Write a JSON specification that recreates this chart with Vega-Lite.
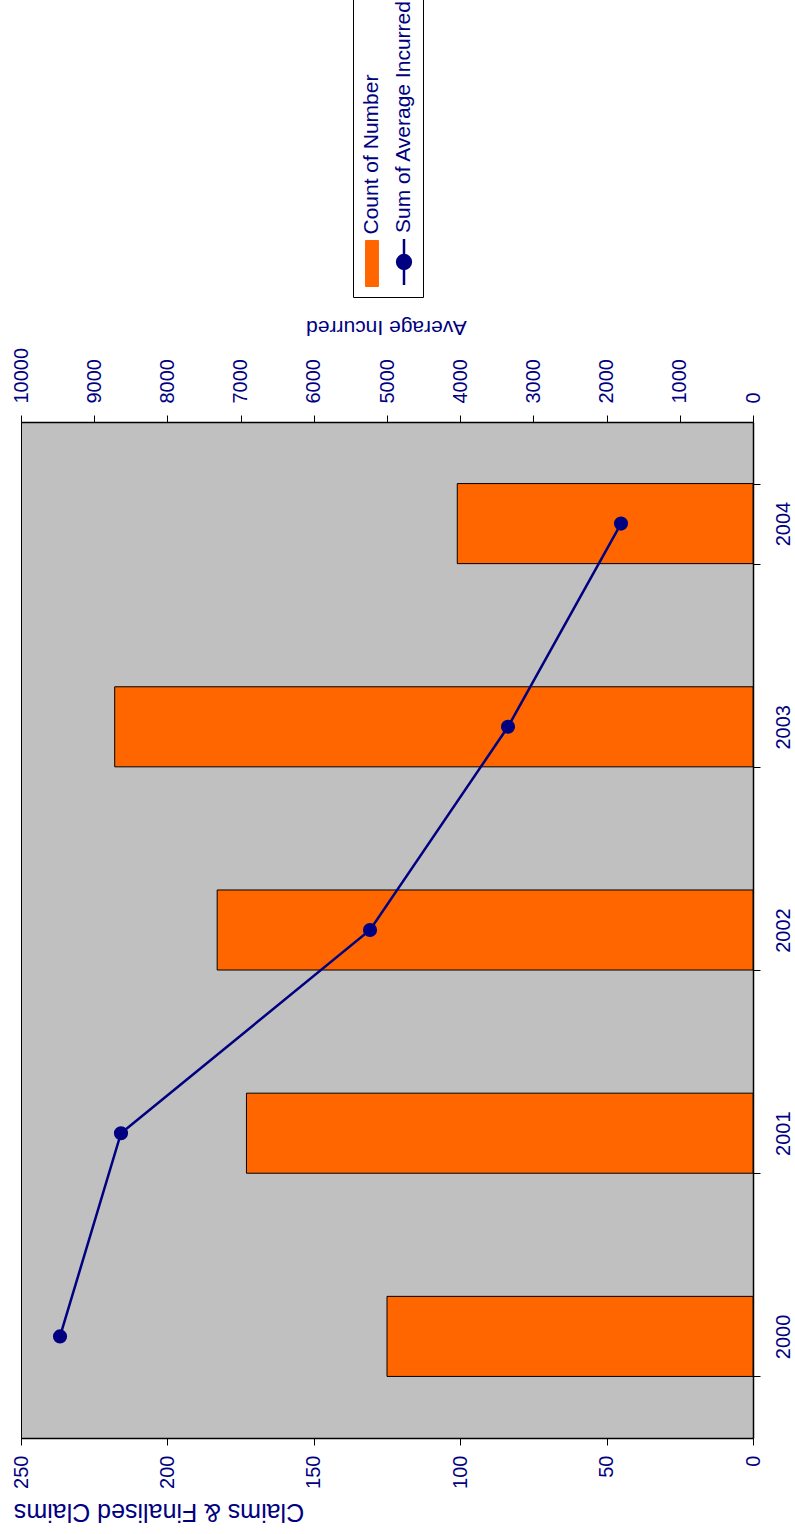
{
  "$schema": "https://vega.github.io/schema/vega-lite/v6.json",
  "width": 732,
  "height": 1016,
  "autosize": {"type": "none"},
  "padding": {"left": 21, "top": 422, "right": 42, "bottom": 96},
  "background": "white",
  "config": {
    "font": "Liberation Sans",
    "view": {"fill": "#C0C0C0", "stroke": "#000000", "strokeWidth": 1},
    "axis": {
      "grid": false,
      "labelFont": "Liberation Sans",
      "labelFontSize": 20,
      "labelColor": "#000080",
      "titleFont": "Liberation Sans",
      "titleFontSize": 21,
      "titleFontWeight": "normal",
      "titleColor": "#000080",
      "tickColor": "#000000",
      "tickSize": 7,
      "tickWidth": 1,
      "domainColor": "#000000",
      "domainWidth": 1.5,
      "labelFlush": false,
      "labelOverlap": false,
      "labelBound": false
    }
  },
  "data": {
    "values": [
      {"year": 2000, "count": 125, "avg": 9467},
      {"year": 2001, "count": 173, "avg": 8634},
      {"year": 2002, "count": 183, "avg": 5232},
      {"year": 2003, "count": 218, "avg": 3347},
      {"year": 2004, "count": 101, "avg": 1803}
    ]
  },
  "encoding": {
    "y": {
      "field": "year",
      "type": "ordinal",
      "sort": "descending",
      "scale": {"paddingInner": 0.606, "paddingOuter": 0.303},
      "axis": {
        "orient": "right",
        "title": null,
        "labelAngle": 270,
        "labelAlign": "center",
        "labelBaseline": "top",
        "labelPadding": 13,
        "tickBand": "extent"
      }
    }
  },
  "layer": [
    {
      "mark": {"type": "bar", "stroke": "#000000", "strokeWidth": 1},
      "encoding": {
        "x": {
          "field": "count",
          "type": "quantitative",
          "scale": {"domain": [0, 250], "reverse": true, "nice": false},
          "axis": {
            "orient": "bottom",
            "values": [0, 50, 100, 150, 200, 250],
            "labelAngle": 270,
            "labelAlign": "right",
            "labelBaseline": "middle",
            "labelPadding": 10,
            "title": "Claims & Finalised Claims",
            "titleFontSize": 25,
            "titleAngle": 180,
            "titleAlign": "center",
            "titleBaseline": "middle",
            "titleX": 137.5,
            "titleY": 73
          }
        },
        "color": {
          "datum": "Count of Number",
          "type": "nominal",
          "scale": {
            "domain": ["Count of Number", "Sum of Average Incurred"],
            "range": ["#FF6600", "#000080"]
          },
          "legend": {
            "orient": "none",
            "legendX": 332,
            "legendY": -429,
            "direction": "horizontal",
            "title": null,
            "strokeColor": "#000000",
            "fillColor": "#FFFFFF",
            "padding": 7,
            "columnPadding": 10,
            "labelFont": "Liberation Sans",
            "labelFontSize": 21,
            "labelColor": "#000080",
            "labelLimit": 400,
            "symbolSize": 2116,
            "encoding": {
              "labels": {
                "angle": {"value": -90},
                "align": {"value": "left"},
                "baseline": {"value": "middle"},
                "x": {"value": 12},
                "y": {"value": 233}
              },
              "symbols": {
                "x": {"value": 12},
                "y": {"value": 262},
                "shape": {"value": {"expr": "datum.value === 'Count of Number' ? 'M-0.28,-1H0.28V1H-0.28Z' : 'M0,-1V1M-0.3,0A0.3,0.3 0 1,0 0.3,0A0.3,0.3 0 1,0 -0.3,0Z'"}},
                "fill": {"value": {"expr": "datum.value === 'Count of Number' ? '#FF6600' : '#000080'"}},
                "stroke": {"value": {"expr": "datum.value === 'Count of Number' ? '#000000' : '#000080'"}},
                "strokeWidth": {"value": {"expr": "datum.value === 'Count of Number' ? 1 : 2.5"}},
                "opacity": {"value": 1},
                "fillOpacity": {"value": 1},
                "strokeOpacity": {"value": 1}
              }
            }
          }
        }
      }
    },
    {
      "mark": {
        "type": "line",
        "strokeWidth": 2.5,
        "point": {"filled": true, "size": 200}
      },
      "encoding": {
        "x": {
          "field": "avg",
          "type": "quantitative",
          "scale": {"domain": [0, 10000], "reverse": true, "nice": false},
          "axis": {
            "orient": "top",
            "format": "d",
            "values": [0, 1000, 2000, 3000, 4000, 5000, 6000, 7000, 8000, 9000, 10000],
            "labelAngle": 270,
            "labelAlign": "left",
            "labelBaseline": "middle",
            "labelPadding": 12,
            "title": "Average Incurred",
            "titleAngle": 180,
            "titleAlign": "center",
            "titleBaseline": "middle",
            "titleX": 365,
            "titleY": -96
          }
        },
        "color": {"datum": "Sum of Average Incurred", "type": "nominal"}
      }
    }
  ],
  "resolve": {"scale": {"x": "independent"}}
}
